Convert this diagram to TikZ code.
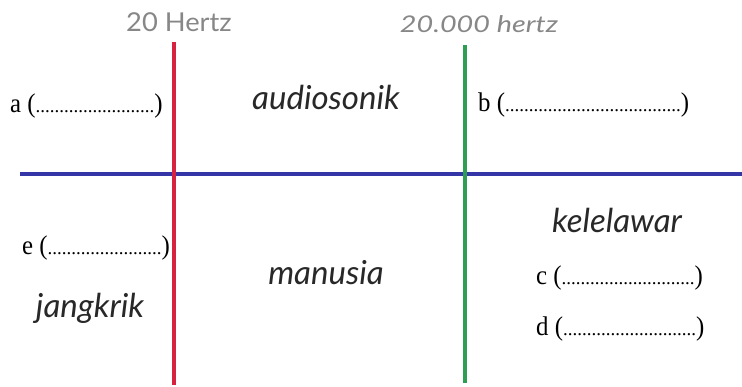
\documentclass[tikz,border=0pt]{standalone}
\usepackage{fontspec}
\setmainfont{Liberation Serif}
\newfontfamily\lblfont{Lato}
\definecolor{redline}{RGB}{214,36,64}
\definecolor{greenline}{RGB}{46,158,82}
\definecolor{blueline}{RGB}{52,54,168}
\definecolor{graytext}{RGB}{135,135,135}
\definecolor{darktext}{RGB}{40,40,40}
\newcommand{\dts}[1]{{\fontsize{19}{20}\selectfont\foreach\i in {1,...,#1}{.}}}
\newcommand{\sxr}[1]{\scalebox{0.92}[1]{\fontsize{27}{29}\selectfont #1}}
\newcommand{\blankline}[2]{\sxr{#1\ (}\dts{#2}\sxr{)}}
\tikzset{
  axis/.style={line width=4pt},
  freq/.style={font=\lblfont\fontsize{26}{28}\selectfont, text=graytext, inner sep=0pt, anchor=base},
  animal/.style={font=\lblfont\itshape\fontsize{33}{36}\selectfont, text=darktext, inner sep=0pt, anchor=base},
  blank/.style={text=black, inner sep=0pt, anchor=base west},
}
\begin{document}
\begin{tikzpicture}[x=1pt,y=-1pt]
\useasboundingbox[fill=white] (0,0) rectangle (742,387);
\coordinate (rt) at (174,42);
\coordinate (rb) at (174,385);
\coordinate (gt) at (465,45);
\coordinate (gb) at (465,383);
\coordinate (bl) at (20,174);
\coordinate (br) at (742,174);
\draw[axis, blueline] (bl) -- (br);
\draw[axis, redline] (rt) -- (rb);
\draw[axis, greenline] (gt) -- (gb);
\node[freq] (f20) at (179,32) {\scalebox{1.05}[1]{20 Hertz}};
\node[freq, font=\lblfont\itshape\fontsize{23}{26}\selectfont] (f20k) at (479,33) {\scalebox{1.25}[1]{20.000 hertz}};
\node[animal] (audio) at (326,110) {audiosonik};
\node[animal] (manusia) at (326,285) {manusia};
\node[animal] (kelelawar) at (617,233) {kelelawar};
\node[animal] (jangkrik) at (90,318) {jangkrik};
\node[blank] (a) at (10,113) {\blankline{a}{25}};
\node[blank] (b) at (478,112) {\blankline{b}{37}};
\node[blank] (c) at (536,285) {\blankline{c}{28}};
\node[blank] (d) at (536,336) {\blankline{d}{28}};
\node[blank] (e) at (22,255) {\blankline{e}{24}};
\end{tikzpicture}
\end{document}
